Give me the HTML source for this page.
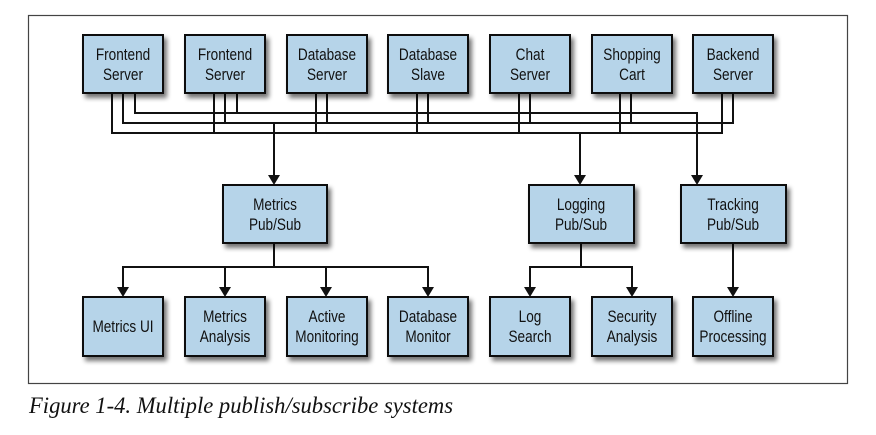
<!DOCTYPE html>
<html><head><meta charset="utf-8"><style>
html,body{margin:0;padding:0;background:#fff;width:876px;height:435px;overflow:hidden}
svg{display:block}
.t{font-family:"Liberation Sans Narrow","Liberation Sans",sans-serif;font-size:17px;fill:#111}
</style></head><body>
<svg width="876" height="435" viewBox="0 0 876 435" xmlns="http://www.w3.org/2000/svg">
<defs>
<filter id="sh" x="-20%" y="-20%" width="150%" height="150%">
<feGaussianBlur in="SourceAlpha" stdDeviation="2.5"/>
<feOffset dx="3" dy="4" result="b"/>
<feComponentTransfer><feFuncA type="linear" slope="0.55"/></feComponentTransfer>
<feMerge><feMergeNode/><feMergeNode in="SourceGraphic"/></feMerge>
</filter>
</defs>
<rect x="28.5" y="15.5" width="819" height="368" fill="none" stroke="#444" stroke-width="1.2"/>

<g fill="none" stroke="#111" stroke-width="2">
<polyline points="112,93 112,133 722,133 722,93"/>
<line x1="214" y1="93" x2="214" y2="133"/><line x1="316" y1="93" x2="316" y2="133"/>
<line x1="417" y1="93" x2="417" y2="133"/><line x1="519" y1="93" x2="519" y2="133"/>
<line x1="620" y1="93" x2="620" y2="133"/>
<polyline points="123,93 123,123 733,123 733,93"/>
<line x1="225" y1="93" x2="225" y2="123"/><line x1="327" y1="93" x2="327" y2="123"/>
<line x1="428" y1="93" x2="428" y2="123"/><line x1="530" y1="93" x2="530" y2="123"/>
<line x1="631" y1="93" x2="631" y2="123"/>
<polyline points="135,93 135,113 697,113 697,176"/>
<line x1="237" y1="93" x2="237" y2="113"/>
<line x1="274" y1="123" x2="274" y2="176"/>
<line x1="580" y1="133" x2="580" y2="176"/>
<polyline points="123,289 123,267 428,267 428,289"/>
<line x1="274" y1="243" x2="274" y2="267"/>
<line x1="225" y1="267" x2="225" y2="289"/><line x1="326" y1="267" x2="326" y2="289"/>
<polyline points="530,289 530,267 632,267 632,289"/>
<line x1="581" y1="243" x2="581" y2="267"/>
<line x1="733" y1="243" x2="733" y2="289"/>
</g>
<g fill="#111">
<polygon points="268,175 280,175 274,185"/>
<polygon points="574,175 586,175 580,185"/>
<polygon points="691,175 703,175 697,185"/>
<polygon points="117,287 129,287 123,297"/>
<polygon points="219,287 231,287 225,297"/>
<polygon points="320,287 332,287 326,297"/>
<polygon points="422,287 434,287 428,297"/>
<polygon points="524,287 536,287 530,297"/>
<polygon points="626,287 638,287 632,297"/>
<polygon points="727,287 739,287 733,297"/>
</g>

<g fill="#b6d4e9" stroke="#111" stroke-width="2" filter="url(#sh)">
<rect x="83" y="35" width="80" height="58"/>
<rect x="185" y="35" width="80" height="58"/>
<rect x="287" y="35" width="80" height="58"/>
<rect x="388" y="35" width="80" height="58"/>
<rect x="490" y="35" width="80" height="58"/>
<rect x="592" y="35" width="80" height="58"/>
<rect x="693" y="35" width="80" height="58"/>
<rect x="223" y="185" width="104" height="58"/>
<rect x="529" y="185" width="105" height="58"/>
<rect x="681" y="185" width="105" height="58"/>
<rect x="83" y="297" width="80" height="59"/>
<rect x="185" y="297" width="80" height="59"/>
<rect x="287" y="297" width="80" height="59"/>
<rect x="388" y="297" width="80" height="59"/>
<rect x="490" y="297" width="80" height="59"/>
<rect x="592" y="297" width="80" height="59"/>
<rect x="693" y="297" width="80" height="59"/>
</g>

<g class="t" text-anchor="middle">
<text transform="translate(123,60) scale(0.8,1)">Frontend</text><text transform="translate(123,80) scale(0.8,1)">Server</text>
<text transform="translate(225,60) scale(0.8,1)">Frontend</text><text transform="translate(225,80) scale(0.8,1)">Server</text>
<text transform="translate(327,60) scale(0.8,1)">Database</text><text transform="translate(327,80) scale(0.8,1)">Server</text>
<text transform="translate(428,60) scale(0.8,1)">Database</text><text transform="translate(428,80) scale(0.8,1)">Slave</text>
<text transform="translate(530,60) scale(0.8,1)">Chat</text><text transform="translate(530,80) scale(0.8,1)">Server</text>
<text transform="translate(632,60) scale(0.8,1)">Shopping</text><text transform="translate(632,80) scale(0.8,1)">Cart</text>
<text transform="translate(733,60) scale(0.8,1)">Backend</text><text transform="translate(733,80) scale(0.8,1)">Server</text>
<text transform="translate(275,210) scale(0.8,1)">Metrics</text><text transform="translate(275,230) scale(0.8,1)">Pub/Sub</text>
<text transform="translate(581,210) scale(0.8,1)">Logging</text><text transform="translate(581,230) scale(0.8,1)">Pub/Sub</text>
<text transform="translate(733,210) scale(0.8,1)">Tracking</text><text transform="translate(733,230) scale(0.8,1)">Pub/Sub</text>
<text transform="translate(123,332) scale(0.8,1)">Metrics UI</text>
<text transform="translate(225,322) scale(0.8,1)">Metrics</text><text transform="translate(225,342) scale(0.8,1)">Analysis</text>
<text transform="translate(327,322) scale(0.8,1)">Active</text><text transform="translate(327,342) scale(0.8,1)">Monitoring</text>
<text transform="translate(428,322) scale(0.8,1)">Database</text><text transform="translate(428,342) scale(0.8,1)">Monitor</text>
<text transform="translate(530,322) scale(0.8,1)">Log</text><text transform="translate(530,342) scale(0.8,1)">Search</text>
<text transform="translate(632,322) scale(0.8,1)">Security</text><text transform="translate(632,342) scale(0.8,1)">Analysis</text>
<text transform="translate(733,322) scale(0.8,1)">Offline</text><text transform="translate(733,342) scale(0.8,1)">Processing</text>
</g>

<text x="29" y="413" font-family="'Liberation Serif',serif" font-style="italic" font-size="23" fill="#111" textLength="424" lengthAdjust="spacingAndGlyphs">Figure 1-4. Multiple publish/subscribe systems</text>
</svg>
</body></html>
